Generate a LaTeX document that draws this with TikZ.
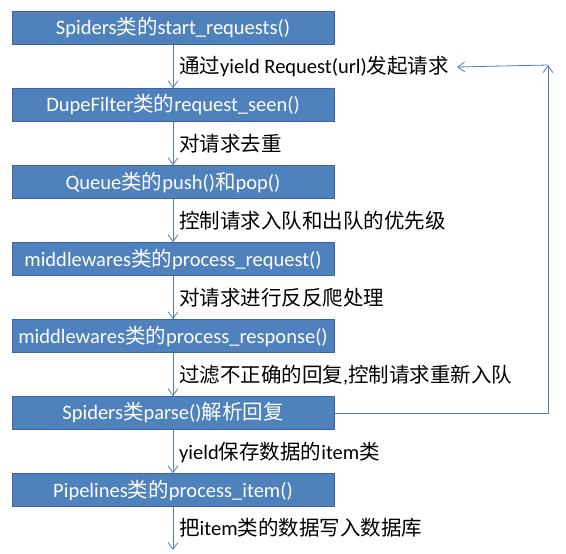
\documentclass[tikz,border=0pt]{standalone}
\usepackage{fontspec}
\usepackage{xcolor,tikz}
\usetikzlibrary{positioning,arrows.meta,calc}
\setmainfont{Carlito}
\newfontfamily\cjk{Noto Sans CJK SC}
\newcommand\zh[1]{{\cjk #1}}
\definecolor{boxblue}{RGB}{79,129,189}
\definecolor{boxedge}{RGB}{60,100,160}
\definecolor{linkblue}{RGB}{84,124,180}

\begin{document}
\begin{tikzpicture}[x=1pt,y=-1pt,
 box/.style={draw=boxedge,fill=boxblue,text=white,minimum width=322pt,minimum height=33pt,inner sep=0pt,font=\fontsize{20.5}{23}\selectfont},
 lab/.style={anchor=west,inner sep=0pt,font=\fontsize{20.5}{23}\selectfont},
 arr/.style={-{Straight Barb[length=2.4mm,width=3.4mm]},draw=linkblue,line width=.8pt}]
\useasboundingbox (0,0) rectangle (566,554);
\node[box] (spider) at (173,28) {Spiders\zh{类的}start\_requests()};
\node[box] (dupe) at (173,105) {DupeFilter\zh{类的}request\_seen()};
\node[box] (queue) at (173,182) {Queue\zh{类的}push()\zh{和}pop()};
\node[box] (reqmw) at (173,259) {middlewares\zh{类的}process\_request()};
\node[box] (respmw) at (173,336) {middlewares\zh{类的}process\_response()};
\node[box] (parse) at (173,413) {Spiders\zh{类}parse()\zh{解析回复}};
\node[box] (pipe) at (173,490) {Pipelines\zh{类的}process\_item()};
\coordinate (end) at (173,550);
\node[lab] (l1) at (179,67) {\zh{通过}yield Request(url)\zh{发起请求}};
\node[lab] (l2) at (179,144) {\zh{对请求去重}};
\node[lab] (l3) at (179,221) {\zh{控制请求入队和出队的优先级}};
\node[lab] (l4) at (179,298) {\zh{对请求进行反反爬处理}};
\node[lab] (l5) at (179,375) {\zh{过滤不正确的回复},\zh{控制请求重新入队}};
\node[lab] (l6) at (179,452) {yield\zh{保存数据的}item\zh{类}};
\node[lab] (l7) at (179,528) {\zh{把}item\zh{类的数据写入数据库}};
\draw[arr](spider)--(dupe);\draw[arr](dupe)--(queue);\draw[arr](queue)--(reqmw);
\draw[arr](reqmw)--(respmw);\draw[arr](respmw)--(parse);\draw[arr](parse)--(pipe);
\draw[arr](pipe)--(end);
% loop back to the start
\coordinate (turn) at (548,65);
\draw[arr](parse.east)-|(turn);\draw[arr](turn)--($(l1.east)+(8,0)$);
\end{tikzpicture}
\end{document}
